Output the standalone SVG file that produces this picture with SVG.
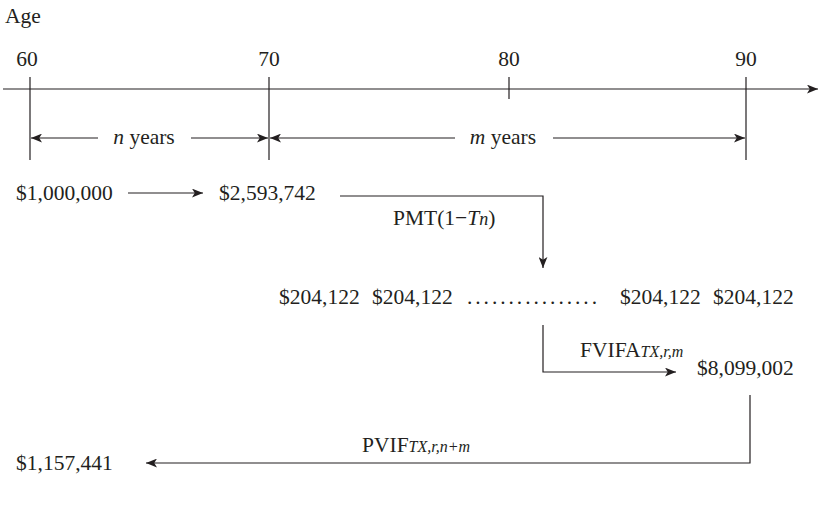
<svg xmlns="http://www.w3.org/2000/svg" width="820" height="506" viewBox="0 0 820 506">
<style>
  text { font-family: "Liberation Serif", "DejaVu Serif", serif; font-size: 21.5px; fill: #231f20; }
  .it { font-style: italic; }
  .sub { font-style: italic; font-size: 16px; }
  .ln { stroke: #231f20; stroke-width: 1.2; fill: none; }
</style>
<defs>
  <marker id="ah" viewBox="0 0 10 8" refX="10" refY="4" markerWidth="11" markerHeight="9" orient="auto-start-reverse" markerUnits="userSpaceOnUse">
    <path d="M0,0 L10,4 L0,8 L2.5,4 z" fill="#231f20"/>
  </marker>
</defs>
<rect width="820" height="506" fill="#ffffff"/>

<g id="axis">
  <text x="5" y="23">Age</text>
  <text x="27" y="66" text-anchor="middle">60</text>
  <text x="269" y="66" text-anchor="middle">70</text>
  <text x="509" y="66" text-anchor="middle">80</text>
  <text x="746" y="66" text-anchor="middle">90</text>
</g>

<g id="connectors">
  <line class="ln" x1="3" y1="89" x2="818" y2="89" marker-end="url(#ah)"/>
  <line class="ln" x1="30" y1="77" x2="30" y2="160"/>
  <line class="ln" x1="269" y1="77" x2="269" y2="160"/>
  <line class="ln" x1="509" y1="77" x2="509" y2="99"/>
  <line class="ln" x1="746" y1="77" x2="746" y2="160"/>
  <line class="ln" x1="31" y1="138" x2="98" y2="138" marker-start="url(#ah)"/>
  <line class="ln" x1="191" y1="138" x2="268" y2="138" marker-end="url(#ah)"/>
  <line class="ln" x1="270" y1="138" x2="455" y2="138" marker-start="url(#ah)"/>
  <line class="ln" x1="553" y1="138" x2="745" y2="138" marker-end="url(#ah)"/>
  <line class="ln" x1="128" y1="193" x2="203" y2="193" marker-end="url(#ah)"/>
  <polyline class="ln" points="340,196 543,196 543,268" marker-end="url(#ah)"/>
  <polyline class="ln" points="543,325 543,372 676,372" marker-end="url(#ah)"/>
  <polyline class="ln" points="750,395 750,463 146,463" marker-end="url(#ah)"/>
</g>

<g id="dim-n"><text x="144" y="144" text-anchor="middle"><tspan class="it">n</tspan> years</text></g>
<g id="dim-m"><text x="503" y="144" text-anchor="middle"><tspan class="it">m</tspan> years</text></g>

<g id="pv-start"><text x="16" y="200">$1,000,000</text></g>
<g id="fv-70"><text x="219" y="200">$2,593,742</text></g>
<g id="pmt-label"><text x="393" y="225">PMT(1−<tspan class="it">T</tspan><tspan class="it" font-size="18">n</tspan>)</text></g>

<g id="payments">
  <text x="279" y="304">$204,122</text>
  <text x="372" y="304">$204,122</text>
  <text x="467" y="304" textLength="130">................</text>
  <text x="620" y="304">$204,122</text>
  <text x="713" y="304">$204,122</text>
</g>

<g id="fvifa-label"><text x="580" y="357">FVIFA<tspan class="sub">TX,r,m</tspan></text></g>
<g id="fv-90"><text x="697" y="375">$8,099,002</text></g>
<g id="pvif-label"><text x="362" y="452">PVIF<tspan class="sub">TX,r,n+m</tspan></text></g>
<g id="pv-end"><text x="16" y="470">$1,157,441</text></g>
</svg>
